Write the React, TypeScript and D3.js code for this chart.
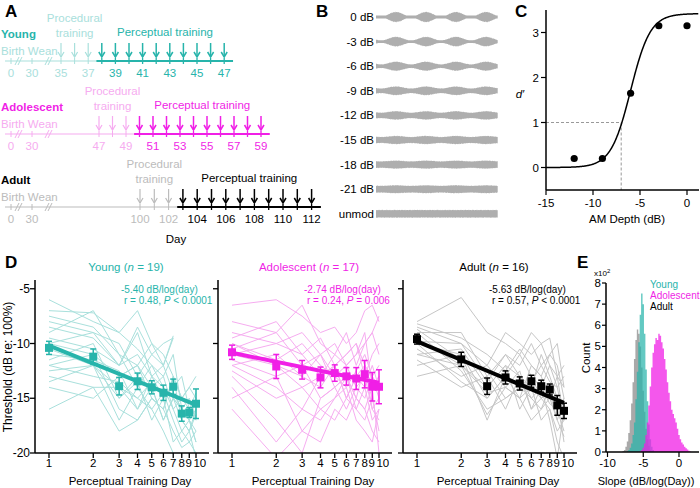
import React from "react";
import * as d3 from "d3";

const FONT = "'Liberation Sans', Arial, Helvetica, sans-serif";
const TEAL = "#27b4ab";
const TEAL_LIGHT = "#a9e0dc";
const MAGENTA = "#f01fe6";
const PINK_LIGHT = "#f6acf0";
const GRAY_LIGHT = "#bcbcbc";

// ---------- A: training timeline
const groups = ["Young", "Adolescent", "Adult"];
const groupN = [19, 17, 16];
const earlyDays = [0, 30];
const proceduralDays = [
  [35, 36, 37],
  [47, 48, 49],
  [100, 101, 102],
];
const perceptualDays = [
  [38, 39, 40, 41, 42, 43, 44, 45, 46, 47],
  [50, 51, 52, 53, 54, 55, 56, 57, 58, 59],
  [103, 104, 105, 106, 107, 108, 109, 110, 111, 112],
];
const lightDayLabels = [
  [35, 37],
  [47, 49],
  [100, 102],
];
const darkDayLabels = [
  [39, 41, 43, 45, 47],
  [51, 53, 55, 57, 59],
  [104, 106, 108, 110, 112],
];

// ---------- B: AM stimuli
const amLabels = ["0 dB", "-3 dB", "-6 dB", "-9 dB", "-12 dB", "-15 dB", "-18 dB", "-21 dB", "unmod"];
const amDepthDb = [0, -3, -6, -9, -12, -15, -18, -21, null];

// ---------- C: psychometric function
const cDepth = [-12, -9, -6, -3, 0];
const cDprime = [0.2, 0.2, 1.65, 3.15, 3.15];
const cFitTop = 3.42;
const cFitMid = -6.0;
const cFitWidth = 1.05;
const cThreshold = -7;

// ---------- D: thresholds over training
const trainingDays = [1, 2, 3, 4, 5, 6, 7, 8, 9, 10];
const youngMean = [-10.4, -11.2, -13.9, -13.45, -14.0, -14.5, -13.95, -16.4, -16.3, -15.5];
const youngSem = [0.6, 0.7, 0.8, 0.75, 0.6, 0.7, 0.7, 0.7, 0.45, 1.35];
const adolMean = [-10.8, -12.1, -12.4, -13.1, -12.7, -13.0, -13.2, -12.8, -13.95, -13.95];
const adolSem = [0.65, 1.1, 0.85, 0.95, 0.75, 0.8, 1.0, 1.25, 1.3, 1.55];
const adultMean = [-9.6, -11.45, -13.9, -13.1, -13.65, -13.45, -13.9, -14.2, -15.65, -16.15];
const adultSem = [0.45, 0.65, 0.75, 0.6, 0.6, 0.55, 0.55, 0.5, 0.9, 0.7];
const fitIntercept = [-10.2, -10.85, -9.8];
const fitSlope = [-5.4, -2.74, -5.63];
const statSlope = ["-5.40", "-2.74", "-5.63"];
const statR = ["0.48", "0.24", "0.57"];
const statP = ["< 0.0001", "= 0.006", "< 0.0001"];

type V = number | null;
const youngAnimals: V[][] = [
  [-6, -8, -9, -7, -10, -12, -9.5, null, null, null],
  [-7, -7.2, -9, -10.5, -12, -13, -11, -16, -17, -19],
  [-8, -9, -10, -13, -11, -12, -9.3, null, null, null],
  [-8.5, -9.5, -12, -9, -13, -14, -15, -17, -18, -20.5],
  [-9, -7, -11, -14, -12, -14, -16, -15, -16, -14.5],
  [-10, -11, -13, -12, -15, -16, -13, -17, -18, -16],
  [-10.5, -12, -14, -15, -13.5, -15, -14.5, -16, -17, -18],
  [-11, -11.5, -12.5, -16, -14, -13, -16, -18, -19, -20],
  [-11.5, -10, -15, -13, -14, -17, -15, -16, -15, -17],
  [-12, -13, -13.5, -15, -16, -14.5, -17, -19, -18, -16.5],
  [-12, -11, -16, -17, -15, -16, -13, -15, -14, -15],
  [-12.5, -12, -15, -13.5, -17, -15, -19, -18, -17, -16],
  [-13, -14, -14, -16, -13, -12, -14.5, -16, -17, -19],
  [-13.5, -12, -17, -14, -16, -18, -20, -21, null, null],
  [-14, -15, -13, -12, -14, -17, -15, -16, -17, -15],
  [-9.5, -10.5, -12, -8.5, -11, -10, -9.5, null, null, null],
  [-16, -14, -18, -17, -15, -16, -18, -19.5, -19, -18],
  [-10, -9, -12, -11, -13, -15, -14, -13, -16, -17],
  [-7.5, -8.5, -11, -12, -10, -11, -13, -15, -14, -13],
];
const adolAnimals: V[][] = [
  [-6.5, -6, -7.5, -9, -8.5, -10, -9, -7, -6.5, -8],
  [-8, -9, -6.5, -10, -11, -9, -12, -10, -9, -7.5],
  [-9, -10, -11, -9.5, -12, -11, -10, -13, -11, -10],
  [-10, -11.5, -10, -12, -13, -12, -11, -9, -14, -13],
  [-10.5, -9, -12, -11, -13, -14, -12.5, -11, -13, -12],
  [-11, -12, -14, -13, -11, -12, -14, -15, -13, -14],
  [-11.5, -13, -12, -15, -14, -13, -15, -12, -16, -15],
  [-12, -14, -16, -13, -12, -15, -13, -14, -17, -16],
  [-12.5, -15, -14, -16, -15, -13, -16, -17, -15, -18],
  [-13, -17, -20, -15, -14, -16, -14, -13, -16, -17],
  [-14, -19, -16, -17, -15, -14, -17, -18, -19, -16],
  [-15, -13, -18, -16, -17, -15, -16, -14, -12, -14],
  [-16, -20.5, -18, -19, -16, -17, -15, -16, -18, -19],
  [-11, -10, -9, -11, -10, -12, -11, -10, -9, -11],
  [-10, -12, -13, -11, -14, -13, -15, -16, -14, -13],
  [-9.5, -8, -11, -13, -12, -11, -10, -12, -13, -15],
  [-12, -11, -13, -14, -12, -15, -13, -12, -14, -20],
];
const adultAnimals: V[][] = [
  [-8, -5.8, -9, -10, -11, -9, -10, -12, -13, -14],
  [-8.5, -10, -12, -9, -10, -11, -10, -9.5, -13, -12],
  [-9, -9, -13, -11, -12, -10, -12, -11, -10, -14],
  [-9.5, -12, -14, -12, -13, -14, -11, -13, -15, -16],
  [-10, -11, -15, -13, -11, -13, -14, -12, -14, -17],
  [-10.5, -13, -12, -14, -15, -12, -13, -15, -17, -15],
  [-9, -12.5, -16, -15, -14, -15, -16, -14, -16, -18],
  [-11, -10.5, -14, -12, -16, -14, -15, -16, -18, -17],
  [-11.5, -14, -13, -16, -13, -16, -14, -17, -20.5, -16],
  [-12, -11, -17, -13, -14, -13, -15, -14, -15, -19],
  [-13, -12, -14.5, -14, -15, -17, -16, -15, -13, -17],
  [-8.2, -9.5, -11, -12.5, -10.5, -12, -13, -11, -12, -15],
  [-8.7, -11.5, -12.5, -15, -14, -13.5, -12, -13.5, -14, -13],
  [-10, -13.5, -15, -13, -15, -14, -17, -16, -19, -20.5],
  [-9.8, -10, -13.5, -11, -13, -15, -14, -15.5, -16, -15],
  [-11, -12, -16.5, -14, -12.5, -16, -15, -14.5, -17, -18.5],
];

// ---------- E: bootstrap slope histograms (counts x100)
const histBinWidth = 0.2;
const adultHistStart = -7.9;
const adultHist = [0.05, 0.1, 0.25, 0.5, 0.9, 1.5, 2.3, 3.3, 4.4, 5.3, 5.8, 5.6, 5.0, 4.0, 2.9, 1.9, 1.1, 0.6, 0.3, 0.1];
const youngHistStart = -7.3;
const youngHist = [0.05, 0.1, 0.2, 0.4, 0.8, 1.4, 2.5, 3.8, 5.2, 6.5, 7.5, 7.0, 5.6, 3.9, 2.4, 1.3, 0.6, 0.25, 0.1];
const adolHistStart = -5.5;
const adolHist = [0.05, 0.1, 0.2, 0.4, 0.8, 1.4, 2.2, 3.1, 4.0, 4.7, 5.1, 5.4, 5.3, 5.6, 5.5, 5.2, 4.9, 4.4, 3.9, 3.3, 2.8, 2.4, 2.0, 1.8, 1.6, 1.4, 1.1, 0.8, 0.6, 0.45, 0.35, 0.25, 0.18, 0.12, 0.06, 0.02];

const darkCol = [TEAL, MAGENTA, "#000"];
const lightCol = [TEAL_LIGHT, PINK_LIGHT, GRAY_LIGHT];
const indivCol = [TEAL_LIGHT, PINK_LIGHT, "#c6c6c6"];

// layout of timeline rows
const tlX0 = [61, 99, 140];
const tlStep = [13.6, 13.5, 14.3];

function Arrow({ x, y, col, w }: { x: number; y: number; col: string; w: number }) {
  return (
    <g transform={`translate(${x},${y})`} stroke={col} strokeWidth={w} fill="none">
      <line x1={0} y1={-14} x2={0} y2={0} />
      <path d="M-3,-5L0,0L3,-5" />
    </g>
  );
}

function Timeline({ g }: { g: number }) {
  const dy = g * 73;
  const ly = 61 + dy;
  const dark = darkCol[g];
  const light = lightCol[g];
  const pd = perceptualDays[g];
  const pr = proceduralDays[g];
  const x = d3
    .scaleLinear()
    .domain([pr[0], pr[0] + 12])
    .range([tlX0[g], tlX0[g] + 12 * tlStep[g]]);
  const xe = d3.scaleLinear().domain([0, 30]).range([11, 32]);
  const darkStart = x(pd[0] - 0.4);
  const darkEnd = x(pd[pd.length - 1] + 0.65);
  const brk = (cx: number) => (
    <g stroke={light} strokeWidth={1}>
      <line x1={cx - 4} y1={ly + 4} x2={cx} y2={ly - 4} />
      <line x1={cx - 1} y1={ly + 4} x2={cx + 3} y2={ly - 4} />
    </g>
  );
  return (
    <g fontFamily={FONT} fontSize={11.5}>
      <text x={1} y={38 + dy} fill={dark} fontWeight="bold">{groups[g]}</text>
      <text x={1} y={55 + dy} fill={light}>Birth Wean</text>
      <text textAnchor="middle" fill={light} x={(x(pr[0]) + x(pr[2])) / 2}>
        <tspan y={22 + dy}>Procedural</tspan>
        <tspan x={(x(pr[0]) + x(pr[2])) / 2} y={37 + dy}>training</tspan>
      </text>
      <text textAnchor="middle" fill={dark} x={(x(pd[0]) + x(pd[pd.length - 1])) / 2 + 2} y={36 + dy}>
        Perceptual training
      </text>
      <line x1={5} x2={darkStart} y1={ly} y2={ly} stroke={light} strokeWidth={1.2} />
      <line x1={darkStart} x2={darkEnd} y1={ly} y2={ly} stroke={dark} strokeWidth={1.8} />
      {brk(19)}
      {brk(49)}
      {earlyDays.map((d) => (
        <g key={d}>
          <line x1={xe(d)} x2={xe(d)} y1={ly - 3} y2={ly + 3} stroke={light} />
          <text x={xe(d)} y={ly + 16} textAnchor="middle" fill={light}>{d}</text>
        </g>
      ))}
      {pr.map((d) => (
        <g key={d}>
          <line x1={x(d)} x2={x(d)} y1={ly - 3} y2={ly + 3} stroke={light} />
          <Arrow x={x(d)} y={ly - 4} col={light} w={1.2} />
        </g>
      ))}
      {pd.map((d) => (
        <g key={d}>
          <line x1={x(d)} x2={x(d)} y1={ly - 3} y2={ly + 3} stroke={dark} strokeWidth={1.3} />
          <Arrow x={x(d)} y={ly - 4} col={dark} w={1.5} />
        </g>
      ))}
      {lightDayLabels[g].map((d) => (
        <text key={d} x={x(d)} y={ly + 16} textAnchor="middle" fill={light}>{d}</text>
      ))}
      {darkDayLabels[g].map((d) => (
        <text key={d} x={x(d)} y={ly + 16} textAnchor="middle" fill={dark}>{d}</text>
      ))}
    </g>
  );
}

function PanelB() {
  const wx = d3.scaleLinear().domain([0, 1]).range([376, 498]);
  const ts = d3.range(0, 1.0001, 0.0035);
  return (
    <g fontFamily={FONT} fontSize={11.5}>
      {amLabels.map((lab, i) => {
        const cy = 17 + i * 24.6;
        const db = amDepthDb[i];
        const m = db == null ? 0 : Math.pow(10, db / 20);
        // envelope of the modulated carrier, with a fixed ragged edge for the noise look
        const half = (t: number, side: number) => {
          const px = wx(t);
          const env = (4.2 * (1 + 0.85 * m * Math.cos((2 * Math.PI * (px - 396)) / 30))) / (1 + m / 2.5);
          const rough = 0.82 + 0.18 * Math.abs(Math.sin(px * 2.7 + side * 1.3 + i) * Math.cos(px * 1.9 - i));
          return Math.max(env * rough, 1.4);
        };
        const area = d3
          .area<number>()
          .x((t) => wx(t))
          .y0((t) => cy - half(t, 0))
          .y1((t) => cy + half(t, 1));
        return (
          <g key={lab}>
            <text x={374} y={cy + 4} textAnchor="end">{lab}</text>
            <path d={area(ts) || ""} fill="#aeaeae" />
          </g>
        );
      })}
    </g>
  );
}

function PanelC() {
  const x = d3.scaleLinear().domain([-15, 0]).range([546, 687]);
  const y = d3.scaleLinear().domain([-0.5, 3.5]).range([190, 10]);
  const fit = (v: number) => cFitTop / (1 + Math.exp(-(v - cFitMid) / cFitWidth));
  const curve = d3
    .line<number>()
    .x((v) => x(v))
    .y((v) => y(fit(v)));
  const xs = d3.range(-15, 1.21, 0.05);
  return (
    <g fontFamily={FONT} fontSize={11.5}>
      <line x1={x(-15)} x2={x(cThreshold)} y1={y(1)} y2={y(1)} stroke="#999" strokeDasharray="3,2" />
      <line x1={x(cThreshold)} x2={x(cThreshold)} y1={y(1)} y2={y(-0.5)} stroke="#999" strokeDasharray="3,2" />
      <path d={curve(xs) || ""} fill="none" stroke="#000" strokeWidth={1.5} />
      {cDepth.map((d, i) => (
        <circle key={d} cx={x(d)} cy={y(cDprime[i])} r={3.6} fill="#000" />
      ))}
      <line x1={546} x2={546} y1={y(3.5)} y2={y(-0.5)} stroke="#000" strokeWidth={1.5} />
      <line x1={546} x2={699} y1={y(-0.5)} y2={y(-0.5)} stroke="#000" strokeWidth={1.5} />
      {[0, 1, 2, 3].map((t) => (
        <g key={t}>
          <line x1={541} x2={546} y1={y(t)} y2={y(t)} stroke="#000" strokeWidth={1.2} />
          <text x={539} y={y(t) + 4} textAnchor="end">{t}</text>
        </g>
      ))}
      {[-15, -10, -5, 0].map((t) => (
        <g key={t}>
          <line x1={x(t)} x2={x(t)} y1={190} y2={195} stroke="#000" strokeWidth={1.2} />
          <text x={x(t)} y={207} textAnchor="middle">{t}</text>
        </g>
      ))}
      <text x={520} y={98} fontStyle="italic" textAnchor="middle">d′</text>
      <text x={627} y={223} textAnchor="middle">AM Depth (dB)</text>
    </g>
  );
}

const yD = d3.scaleLinear().domain([-20, -4.2]).range([453, 280]);
const dAxisX = [35, 218, 403];
const meansD = [youngMean, adolMean, adultMean];
const semsD = [youngSem, adolSem, adultSem];
const animalsD = [youngAnimals, adolAnimals, adultAnimals];

function PanelD({ g }: { g: number }) {
  const ax = dAxisX[g];
  const x = d3.scaleLog().domain([1, 10]).range([ax + 14, ax + 161]);
  const col = darkCol[g];
  const line = d3
    .line<V>()
    .defined((v) => v != null)
    .x((_, i) => x(trainingDays[i]))
    .y((v) => yD(v as number));
  const fitY = (d: number) => fitIntercept[g] + fitSlope[g] * Math.log10(d);
  return (
    <g fontFamily={FONT} fontSize={12}>
      <defs>
        <clipPath id={`clipD${g}`}>
          <rect x={ax} y={276} width={180} height={177} />
        </clipPath>
      </defs>
      <g clipPath={`url(#clipD${g})`}>
        {animalsD[g].map((a, i) => (
          <path key={i} d={line(a) || ""} fill="none" stroke={indivCol[g]} strokeWidth={1} />
        ))}
      </g>
      <line x1={x(1)} x2={x(10)} y1={yD(fitY(1))} y2={yD(fitY(10))} stroke={col} strokeWidth={4} />
      {trainingDays.map((d, i) => {
        const m = meansD[g][i];
        const s = semsD[g][i];
        return (
          <g key={d} stroke={col} strokeWidth={1.5}>
            <line x1={x(d)} x2={x(d)} y1={yD(m - s)} y2={yD(m + s)} />
            <line x1={x(d) - 3} x2={x(d) + 3} y1={yD(m - s)} y2={yD(m - s)} />
            <line x1={x(d) - 3} x2={x(d) + 3} y1={yD(m + s)} y2={yD(m + s)} />
            <rect x={x(d) - 4} y={yD(m) - 4} width={8} height={8} fill={col} stroke="none" />
          </g>
        );
      })}
      <line x1={ax} x2={ax} y1={280} y2={453} stroke="#000" strokeWidth={1.5} />
      <line x1={ax} x2={ax + 174} y1={453} y2={453} stroke="#000" strokeWidth={1.5} />
      {[-5, -10, -15, -20].map((t) => (
        <g key={t}>
          <line x1={ax - 5} x2={ax} y1={yD(t)} y2={yD(t)} stroke="#000" strokeWidth={1.3} />
          {g === 0 && (
            <text x={ax - 5} y={yD(t) + 4} textAnchor="end">{t}</text>
          )}
        </g>
      ))}
      {trainingDays.map((d) => (
        <g key={d}>
          <line x1={x(d)} x2={x(d)} y1={453} y2={458} stroke="#000" strokeWidth={1.3} />
          <text
            x={d === 10 ? x(d) - 2.6 : d === 9 ? x(d) - 0.6 : x(d)}
            y={467}
            fontSize={11.5}
            textAnchor={d === 10 ? "start" : "middle"}
          >
            {d}
          </text>
        </g>
      ))}
      <text x={ax + 95} y={485} textAnchor="middle" fontSize={11.5}>Perceptual Training Day</text>
      <text x={ax + 91} y={271} textAnchor="middle" fontSize={11.5} fill={col}>
        {groups[g]} (<tspan fontStyle="italic">n</tspan> = {groupN[g]})
      </text>
      <text x={ax + 86} y={293} fontSize={10} fill={col}>
        {statSlope[g]} dB/log(day)
      </text>
      <text x={ax + 89} y={304} fontSize={10} fill={col}>
        r = {statR[g]}, <tspan fontStyle="italic">P</tspan> {statP[g]}
      </text>
      {g === 0 && (
        <text transform="translate(12,367) rotate(-90)" textAnchor="middle" fontSize={12}>
          Threshold (dB re: 100%)
        </text>
      )}
    </g>
  );
}

function PanelE() {
  const x = d3.scaleLinear().domain([-10, 0]).range([607.5, 679]);
  const y = d3.scaleLinear().domain([0, 8]).range([452, 283]);
  const hist = (start: number, counts: number[]) => {
    const pts: [number, number][] = counts.map((c, i) => [start + i * histBinWidth, c]);
    pts.push([start + counts.length * histBinWidth, 0]);
    const area = d3
      .area<[number, number]>()
      .x((p) => x(p[0]))
      .y0(y(0))
      .y1((p) => y(p[1]))
      .curve(d3.curveStepAfter);
    return area(pts) || "";
  };
  return (
    <g fontFamily={FONT} fontSize={11.5}>
      <path d={hist(adultHistStart, adultHist)} fill="#8c8c8c" fillOpacity={0.75} />
      <path d={hist(youngHistStart, youngHist)} fill={TEAL} fillOpacity={0.72} />
      <path d={hist(adolHistStart, adolHist)} fill={MAGENTA} fillOpacity={0.75} />
      <line x1={606} x2={606} y1={y(8)} y2={y(0)} stroke="#000" strokeWidth={1.5} />
      <line x1={606} x2={699} y1={y(0)} y2={y(0)} stroke="#000" strokeWidth={1.5} />
      {d3.range(0, 9).map((t) => (
        <g key={t}>
          <line x1={602} x2={606} y1={y(t)} y2={y(t)} stroke="#000" strokeWidth={1.2} />
          <text x={601} y={y(t) + 4} textAnchor="end">{t}</text>
        </g>
      ))}
      {[-10, -5, 0].map((t) => (
        <g key={t}>
          <line x1={x(t)} x2={x(t)} y1={452} y2={457} stroke="#000" strokeWidth={1.2} />
          <text x={x(t)} y={467} textAnchor="middle">{t}</text>
        </g>
      ))}
      <text x={594} y={276} fontSize={8}>
        x10<tspan dy={-3} fontSize={6}>2</tspan>
      </text>
      <text transform="translate(590,358) rotate(-90)" textAnchor="middle">Count</text>
      <text x={646} y={485} textAnchor="middle" fontSize={11}>Slope (dB/log(Day))</text>
      <text x={650} y={288} fontSize={10} fill={TEAL}>Young</text>
      <text x={650} y={299} fontSize={10} fill={MAGENTA}>Adolescent</text>
      <text x={650} y={310} fontSize={10} fill="#000">Adult</text>
    </g>
  );
}

export default function App() {
  return (
    <svg
      width={700}
      height={488}
      viewBox="0 0 700 488"
      style={{ position: "absolute", left: 0, top: 0, background: "#fff" }}
    >
      <rect width={700} height={488} fill="#fff" />
      <g fontFamily={FONT} fontWeight="bold" fontSize={17}>
        <text x={5} y={17}>A</text>
        <text x={316} y={17}>B</text>
        <text x={515} y={17}>C</text>
        <text x={5} y={268}>D</text>
        <text x={577} y={268}>E</text>
      </g>
      {[0, 1, 2].map((g) => (
        <Timeline key={g} g={g} />
      ))}
      <text x={176} y={243} textAnchor="middle" fontFamily={FONT} fontSize={11.5}>Day</text>
      <PanelB />
      <PanelC />
      {[0, 1, 2].map((g) => (
        <PanelD key={g} g={g} />
      ))}
      <PanelE />
    </svg>
  );
}
